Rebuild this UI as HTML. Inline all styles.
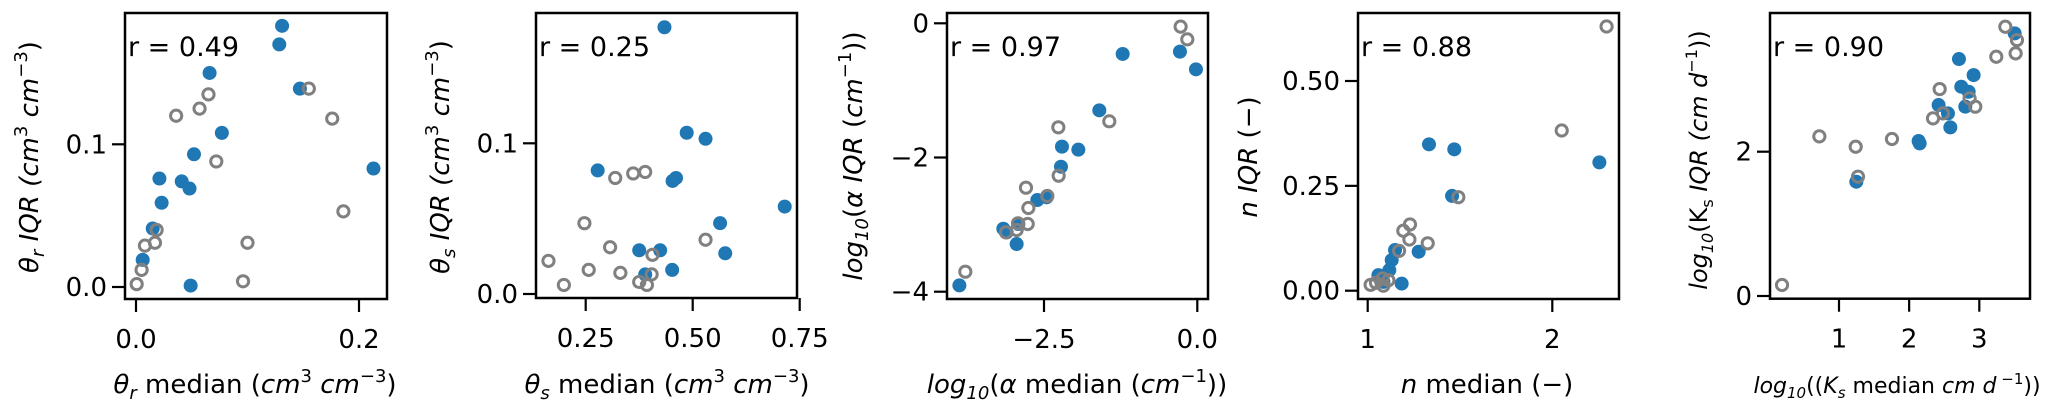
<!DOCTYPE html>
<html><head><meta charset="utf-8"><style>
html,body{margin:0;padding:0;background:#fff}
svg{display:block;font-family:"DejaVu Sans","Liberation Sans",sans-serif}
</style></head><body>
<svg id="chart" width="2067" height="413" viewBox="0 0 2067 413" xmlns="http://www.w3.org/2000/svg">
<rect width="2067" height="413" fill="#fff"/>
<g font-size="26" fill="#000">
<text x="255" y="393" text-anchor="middle"><tspan font-style="italic">θ</tspan><tspan font-style="italic" font-size="18" dy="6">r</tspan><tspan dy="-6"> median (</tspan><tspan font-style="italic">cm</tspan><tspan font-size="18" dy="-11">3</tspan><tspan dy="11" font-style="italic"> cm</tspan><tspan font-size="18" dy="-11">−3</tspan><tspan dy="11">)</tspan></text>
<text transform="translate(38,157) rotate(-90)" text-anchor="middle"><tspan font-style="italic">θ</tspan><tspan font-style="italic" font-size="18" dy="6">r</tspan><tspan dy="-6" font-style="italic"> IQR (cm</tspan><tspan font-size="18" dy="-11">3</tspan><tspan dy="11" font-style="italic"> cm</tspan><tspan font-size="18" dy="-11">−3</tspan><tspan dy="11">)</tspan></text>

<text x="667" y="393" text-anchor="middle"><tspan font-style="italic">θ</tspan><tspan font-style="italic" font-size="18" dy="6">s</tspan><tspan dy="-6"> median (</tspan><tspan font-style="italic">cm</tspan><tspan font-size="18" dy="-11">3</tspan><tspan dy="11" font-style="italic"> cm</tspan><tspan font-size="18" dy="-11">−3</tspan><tspan dy="11">)</tspan></text>
<text transform="translate(449,157) rotate(-90)" text-anchor="middle"><tspan font-style="italic">θ</tspan><tspan font-style="italic" font-size="18" dy="6">s</tspan><tspan dy="-6" font-style="italic"> IQR (cm</tspan><tspan font-size="18" dy="-11">3</tspan><tspan dy="11" font-style="italic"> cm</tspan><tspan font-size="18" dy="-11">−3</tspan><tspan dy="11">)</tspan></text>

<text x="1077" y="393" text-anchor="middle"><tspan font-style="italic">log</tspan><tspan font-style="italic" font-size="18" dy="6">10</tspan><tspan dy="-6">(</tspan><tspan font-style="italic">α</tspan><tspan> median (</tspan><tspan font-style="italic">cm</tspan><tspan font-size="18" dy="-11">−1</tspan><tspan dy="11">))</tspan></text>
<text transform="translate(862,156) rotate(-90)" text-anchor="middle"><tspan font-style="italic">log</tspan><tspan font-style="italic" font-size="18" dy="6">10</tspan><tspan dy="-6">(</tspan><tspan font-style="italic">α IQR</tspan><tspan> (</tspan><tspan font-style="italic">cm</tspan><tspan font-size="18" dy="-11">−1</tspan><tspan dy="11">))</tspan></text>

<text x="1487" y="393" text-anchor="middle"><tspan font-style="italic">n</tspan><tspan> median  (−)</tspan></text>
<text transform="translate(1257,157) rotate(-90)" text-anchor="middle"><tspan font-style="italic">n IQR</tspan><tspan> (−)</tspan></text>

<text x="1897" y="393" text-anchor="middle" font-size="22"><tspan font-style="italic">log</tspan><tspan font-style="italic" font-size="15" dy="5">10</tspan><tspan dy="-5">((</tspan><tspan font-style="italic">K</tspan><tspan font-style="italic" font-size="15" dy="5">s</tspan><tspan dy="-5"> median </tspan><tspan font-style="italic">cm d</tspan><tspan font-size="15" dy="-9"> −1</tspan><tspan dy="9">))</tspan></text>
<text transform="translate(1707,160) rotate(-90)" text-anchor="middle" font-size="24"><tspan font-style="italic">log</tspan><tspan font-style="italic" font-size="16" dy="6">10</tspan><tspan dy="-6">(K</tspan><tspan font-size="16" dy="6">s</tspan><tspan dy="-6" font-style="italic"> IQR (cm d</tspan><tspan font-size="16" dy="-10">−1</tspan><tspan dy="10">))</tspan></text>
</g>
</svg>
<script>
// Panel 1: theta_r
const p1BlueX=[0.131,0.1285,0.066,0.147,0.077,0.052,0.021,0.041,0.048,0.023,0.015,0.006,0.049,0.213];
const p1BlueY=[0.183,0.170,0.150,0.139,0.108,0.093,0.076,0.074,0.069,0.059,0.041,0.019,0.001,0.083];
const p1GrayX=[0.036,0.057,0.065,0.155,0.176,0.072,0.186,0.0185,0.017,0.008,0.100,0.005,0.0006,0.096];
const p1GrayY=[0.120,0.125,0.135,0.139,0.118,0.088,0.053,0.040,0.031,0.029,0.031,0.012,0.002,0.004];
const p1XTicks=[0.0,0.2];const p1XTickLabels=["0.0","0.2"];
const p1YTicks=[0.0,0.1];const p1YTickLabels=["0.0","0.1"];
// Panel 2: theta_s
const p2BlueX=[0.434,0.486,0.530,0.278,0.461,0.453,0.715,0.564,0.375,0.424,0.576,0.452,0.389];
const p2BlueY=[0.177,0.107,0.103,0.082,0.077,0.075,0.058,0.047,0.029,0.029,0.027,0.016,0.013];
const p2GrayX=[0.319,0.361,0.389,0.247,0.530,0.307,0.406,0.163,0.257,0.331,0.404,0.375,0.393,0.199];
const p2GrayY=[0.077,0.080,0.081,0.047,0.036,0.031,0.026,0.022,0.016,0.014,0.013,0.008,0.006,0.006];
const p2XTicks=[0.25,0.5,0.75];const p2XTickLabels=["0.25","0.50","0.75"];
const p2YTicks=[0.0,0.1];const p2YTickLabels=["0.0","0.1"];
// Panel 3: alpha
const p3BlueX=[-1.217,-0.283,-0.022,-1.598,-2.207,-1.940,-2.223,-2.609,-2.457,-3.163,-3.109,-2.946,-3.880,-2.918];
const p3BlueY=[-0.457,-0.422,-0.686,-1.297,-1.838,-1.883,-2.137,-2.634,-2.594,-3.061,-3.116,-3.290,-3.906,-2.991];
const p3GrayX=[-0.272,-0.163,-1.435,-2.266,-2.261,-2.794,-2.446,-2.755,-2.766,-2.924,-3.120,-2.946,-3.783];
const p3GrayY=[-0.050,-0.239,-1.461,-1.550,-2.271,-2.450,-2.574,-2.753,-2.991,-2.981,-3.116,-3.081,-3.702];
const p3XTicks=[-2.5,0];const p3XTickLabels=["−2.5","0.0"];
const p3YTicks=[0,-2,-4];const p3YTickLabels=["0","−2","−4"];
// Panel 4: n
const p4BlueX=[1.332,1.469,2.255,1.457,1.276,1.148,1.130,1.117,1.058,1.184,1.085];
const p4BlueY=[0.349,0.337,0.306,0.226,0.093,0.097,0.073,0.049,0.037,0.017,0.021];
const p4GrayX=[2.294,2.051,1.491,1.229,1.193,1.226,1.325,1.170,1.081,1.016,1.085,1.112,1.045];
const p4GrayY=[0.630,0.382,0.223,0.158,0.143,0.122,0.113,0.095,0.029,0.014,0.012,0.025,0.019];
const p4XTicks=[1,2];const p4XTickLabels=["1","2"];
const p4YTicks=[0,0.25,0.5];const p4YTickLabels=["0.00","0.25","0.50"];
// Panel 5: Ks
const p5BlueX=[2.710,2.919,2.743,2.848,2.420,2.553,2.800,2.587,2.135,2.150,1.247,3.504];
const p5BlueY=[3.284,3.062,2.901,2.831,2.647,2.531,2.624,2.337,2.148,2.115,1.584,3.640];
const p5GrayX=[3.371,3.537,3.518,3.242,2.435,2.340,2.482,2.862,2.943,0.720,1.238,1.755,1.271,0.188];
const p5GrayY=[3.732,3.547,3.363,3.316,2.868,2.462,2.531,2.739,2.624,2.212,2.069,2.176,1.654,0.152];
const p5XTicks=[1,2,3];const p5XTickLabels=["1","2","3"];
const p5YTicks=[0,2];const p5YTickLabels=["0","2"];
const rLabels=["r = 0.49","r = 0.25","r = 0.97","r = 0.88","r = 0.90"];

const NS="http://www.w3.org/2000/svg";
const svg=document.getElementById('chart');
function mk(t,a,parent){const e=document.createElementNS(NS,t);for(const k in a)e.setAttribute(k,a[k]);(parent||svg).appendChild(e);return e;}
function lin(d0,d1,r0,r1){return v=>r0+(v-d0)/(d1-d0)*(r1-r0);}

const panels=[
 {L:125,R:387,T:13,B:299,sx:lin(0,0.2,136,359),sy:lin(0,0.1,287,144.3),bx:p1BlueX,by:p1BlueY,gx:p1GrayX,gy:p1GrayY,xt:p1XTicks,xl:p1XTickLabels,yt:p1YTicks,yl:p1YTickLabels},
 {L:536,R:797,T:13,B:298,sx:lin(0.25,0.5,585.7,692.7),sy:lin(0,0.1,294,143.3),bx:p2BlueX,by:p2BlueY,gx:p2GrayX,gy:p2GrayY,xt:p2XTicks,xl:p2XTickLabels,yt:p2YTicks,yl:p2YTickLabels},
 {L:947,R:1208,T:13,B:299,sx:lin(-2.5,0,1044,1197.3),sy:lin(0,-4,23.3,291.7),bx:p3BlueX,by:p3BlueY,gx:p3GrayX,gy:p3GrayY,xt:p3XTicks,xl:p3XTickLabels,yt:p3YTicks,yl:p3YTickLabels},
 {L:1358,R:1619,T:13,B:299,sx:lin(1,2,1367.7,1552.3),sy:lin(0,0.5,290.7,81),bx:p4BlueX,by:p4BlueY,gx:p4GrayX,gy:p4GrayY,xt:p4XTicks,xl:p4XTickLabels,yt:p4YTicks,yl:p4YTickLabels},
 {L:1770,R:2030,T:13,B:298.7,sx:lin(1,3,1839,1979.3),sy:lin(0,2,296,151.7),bx:p5BlueX,by:p5BlueY,gx:p5GrayX,gy:p5GrayY,xt:p5XTicks,xl:p5XTickLabels,yt:p5YTicks,yl:p5YTickLabels}
];

panels.forEach((p,i)=>{
  const g=mk('g',{});
  
  
  p.bx.forEach((v,j)=>{
    const c=mk('circle',{cx:p.sx(v),cy:p.sy(p.by[j]),r:7,fill:'#1f77b4'},g);
    
    
  });
  p.gx.forEach((v,j)=>{
    const c=mk('circle',{cx:p.sx(v),cy:p.sy(p.gy[j]),r:5.6,fill:'none',stroke:'#808080','stroke-width':3},g);
    
    
  });
  const f=mk('rect',{x:p.L,y:p.T,width:p.R-p.L,height:p.B-p.T,fill:'none',stroke:'#000','stroke-width':2.5},g);
  
  
  p.xt.forEach((v,j)=>{
    const x=p.sx(v);
    const t=mk('line',{x1:x,x2:x,y1:p.B,y2:p.B+13,stroke:'#000','stroke-width':2.2},g);
    
    
    const l=mk('text',{x:x,y:p.B+49,'text-anchor':'middle','font-size':26},g);
    l.textContent=p.xl[j];
    
    
  });
  p.yt.forEach((v,j)=>{
    const y=p.sy(v);
    const t=mk('line',{x1:p.L-13,x2:p.L,y1:y,y2:y,stroke:'#000','stroke-width':2.2},g);
    
    
    const l=mk('text',{x:p.L-18,y:y+9,'text-anchor':'end','font-size':26},g);
    l.textContent=p.yl[j];
    
    
  });
  const r=mk('text',{x:p.L+3,y:56,'font-size':27},g);
  r.textContent=rLabels[i];
  
  
});
</script>
</body></html>
